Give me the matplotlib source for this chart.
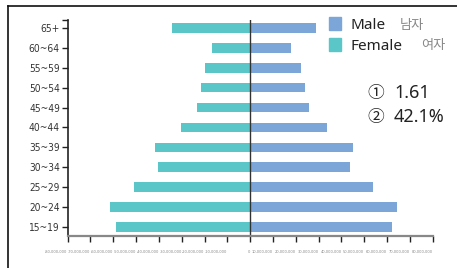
import numpy as np
import matplotlib.pyplot as plt
from matplotlib.patches import Rectangle
from matplotlib.lines import Line2D

ages = ['15~19', '20~24', '25~29', '30~34', '35~39', '40~44',
        '45~49', '50~54', '55~59', '60~64', '65+']
male = [62.1, 64.3, 53.7, 43.6, 45.0, 33.6, 25.7, 23.9, 22.1, 17.8, 28.7]      # millions
female = [58.6, 61.6, 51.1, 40.6, 41.9, 30.5, 23.5, 21.7, 20.0, 16.9, 34.4]   # millions
xtick_vals = list(range(-80, 81, 10))
xtick_labels = ['{:,}'.format(v * 1000000) for v in xtick_vals]

male_col = '#7ba6d7'
female_col = '#5bc6c8'

fig = plt.figure(figsize=(4.57, 2.68), dpi=100)
ax = fig.add_axes([0.148, 0.119, 0.799, 0.806])

y = np.arange(len(ages))
ax.barh(y, male, height=0.48, color=male_col)
ax.barh(y, [-v for v in female], height=0.48, color=female_col)
ax.axvline(0, color='#333333', lw=1)

ax.set_xlim(-80, 80)
ax.set_ylim(-0.47, 10.4)
ax.set_xticks(xtick_vals)
ax.set_xticklabels(xtick_labels, fontsize=2.9, color='#888888', ha='right',
                   fontstretch='condensed')
ax.set_yticks(list(y) + [10.4])
ax.set_yticklabels(ages + [''], fontsize=7.3, color='#333333',
                   fontstretch='condensed')
ax.tick_params(axis='x', length=4, width=1, color='#222222', pad=6)
ax.tick_params(axis='y', length=4, width=1, color='#222222', pad=1.5)

for s in ['top', 'right']:
    ax.spines[s].set_visible(False)
ax.spines['left'].set_color('#222222')
ax.spines['left'].set_linewidth(1.2)
ax.spines['bottom'].set_color('#888888')
ax.spines['bottom'].set_linewidth(1.6)

# frame lines of the cropped image
fig.add_artist(Line2D([8 / 457, 1], [1 - 6 / 268, 1 - 6 / 268], color='#111111', lw=1.2))
fig.add_artist(Line2D([8 / 457, 8 / 457], [0, 1 - 6 / 268], color='#111111', lw=1.2))

# legend
W, H = 457, 268
for top, col, name, kr, krx in [(17, male_col, 'Male', '남자', 400),
                                (38, female_col, 'Female', '여자', 421)]:
    fig.add_artist(Rectangle((329 / W, 1 - (top + 13) / H), 12 / W, 13 / H,
                             color=col, transform=fig.transFigure))
    fig.text(350 / W, 1 - (top + 12) / H, name, fontsize=11, color='#222222',
             family=['Noto Sans', 'DejaVu Sans'], va='baseline')
    fig.text(krx / W, 1 - (top + 11.5) / H, kr, fontsize=9.5, color='#888888',
             family=['Noto Sans CJK KR'], va='baseline')

fig.text(367 / W, 1 - 98 / H, '①', fontsize=12, color='#222222',
         family=['Noto Sans CJK KR', 'DejaVu Sans'], va='baseline')
fig.text(394 / W, 1 - 98 / H, '1.61', fontsize=13, color='#222222',
         family=['Noto Sans', 'DejaVu Sans'], va='baseline')
fig.text(367 / W, 1 - 122 / H, '②', fontsize=12, color='#222222',
         family=['Noto Sans CJK KR', 'DejaVu Sans'], va='baseline')
fig.text(394 / W, 1 - 122 / H, '42.1%', fontsize=13, color='#222222',
         family=['Noto Sans', 'DejaVu Sans'], va='baseline')

fig.savefig('out.png', dpi=100)
